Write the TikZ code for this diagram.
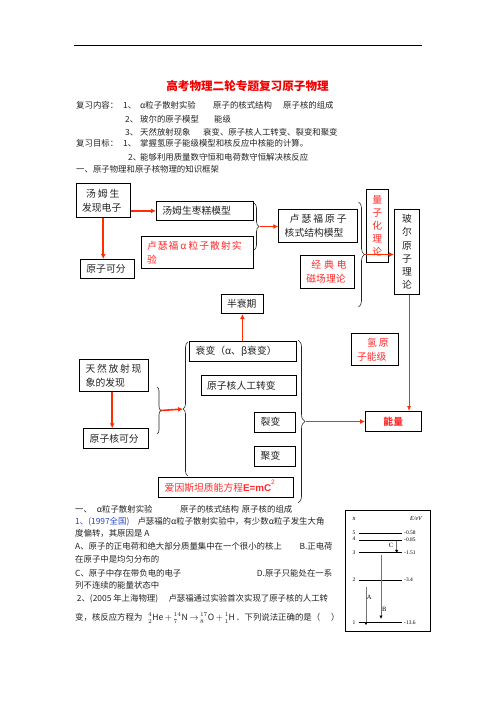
\documentclass[tikz,border=0pt]{standalone}
\usepackage{fontspec}
\setmainfont{Noto Sans CJK SC}
\newfontfamily\latin{Liberation Serif}
\newfontfamily\arial{Liberation Sans}
\usepackage{xcolor}
\usepackage{amsmath}
\usepackage{tikz}
\usetikzlibrary{arrows.meta,positioning,calc,decorations.pathreplacing}
\definecolor{titlered}{RGB}{240,0,0}
\definecolor{boxred}{RGB}{255,40,40}
\definecolor{arrowred}{RGB}{255,45,0}
\definecolor{qblue}{RGB}{40,70,200}
\definecolor{ink}{RGB}{35,35,35}

\begin{document}
\begin{tikzpicture}[x=1pt,y=-1pt,
    box/.style={draw,line width=.8pt,anchor=north west,inner xsep=6pt,inner ysep=0pt,align=left,font=\fontsize{9.8}{14}\selectfont,text=ink},
    vbox/.style={draw,line width=.8pt,anchor=north west,inner sep=0pt,align=center,font=\fontsize{9.8}{13}\selectfont,text=ink},
    arrow/.style={-{Latex[length=5pt,width=5pt]},line width=1.6pt,draw=arrowred},
    thinarrow/.style={-{Latex[length=5pt,width=4pt]},line width=.8pt,draw=arrowred},
    brace/.style={decorate,decoration={brace,amplitude=#1},line width=.6pt,draw=ink},
    txt/.style={anchor=base west,inner sep=0pt,font=\fontsize{8.4}{10}\selectfont,text=ink},
    small/.style={inner sep=0pt,font=\latin\fontsize{5.5}{6}\selectfont},
    earrow/.style={-{Latex[length=3.5pt,width=3.5pt,color=black]},line width=.7pt,draw=black!55}
    ]
    \useasboundingbox (0,0) rectangle (496,702);

    % page head
    \draw[line width=.8pt] (74,45) -- (422,45);
    \node[inner sep=0pt,font=\fontsize{11.6}{14}\selectfont\bfseries,text=titlered] (title) at (247.5,86) {高考物理二轮专题复习原子物理};

    \node[txt] (rev) at (76,108.5) {复习内容：};
    \node[txt] (rev1n) at (123,108.5) {1、};
    \node[txt] (rev1a) at (140,108.5) {α粒子散射实验};
    \node[txt] (rev1b) at (213,108.5) {原子的核式结构};
    \node[txt] (rev1c) at (283,108.5) {原子核的组成};
    \node[txt] (rev2n) at (125,122.5) {2、};
    \node[txt] (rev2a) at (140,122.5) {玻尔的原子模型};
    \node[txt] (rev2b) at (214,122.5) {能级};
    \node[txt] (rev3n) at (125,135.5) {3、};
    \node[txt] (rev3a) at (140,135.5) {天然放射现象};
    \node[txt] (rev3b) at (203,135.5) {衰变、原子核人工转变、裂变和聚变};
    \node[txt] (aim) at (76,146.5) {复习目标：};
    \node[txt] (aim1n) at (123,146.5) {1、};
    \node[txt] (aim1a) at (140,146.5) {掌握氢原子能级模型和核反应中核能的计算。};
    \node[txt] (aim2n) at (128,160) {2、};
    \node[txt] (aim2a) at (140,160) {能够利用质量数守恒和电荷数守恒解决核反应};
    \node[txt] (frame) at (76,172.5) {一、原子物理和原子核物理的知识框架};

    % knowledge frame
    \node[box,text width=42.3pt,minimum height=33.4pt] (thomson) at (75.7,183.3) {\hspace*{4pt}汤\hspace{2pt}姆\hspace{2pt}生\\发现电子};
    \node[box,text width=84.7pt,minimum height=19pt] (plum) at (156,201) {汤姆生枣糕模型};
    \node[box,text=boxred,text width=100.6pt,minimum height=32.6pt] (scatter) at (140.7,235.7) {卢\hspace{1pt}瑟\hspace{1pt}福\hspace{2pt}α\hspace{2pt}粒\hspace{1pt}子\hspace{1pt}散\hspace{1pt}射\hspace{1pt}实\\验};
    \node[box,text width=42pt,minimum height=19.3pt] (divisible) at (80,259) {原子可分};
    \node[box,text width=66.4pt,minimum height=32.7pt] (nuclear) at (278.3,209) {\hspace*{5pt}卢\hspace{2pt}瑟\hspace{2pt}福\hspace{2pt}原\hspace{2pt}子\\核式结构模型};
    \node[box,text=boxred,text width=42.3pt,minimum height=32.7pt] (classic) at (300,255) {\hspace*{5pt}经\hspace{3pt}典\hspace{3pt}电\\磁场理论};
    \node[vbox,text=boxred,minimum width=21.5pt,minimum height=73pt] (quantum) at (366,189) {量\\子\\化\\理\\论};
    \node[vbox,font=\fontsize{9.8}{13.3}\selectfont,minimum width=25.3pt,minimum height=85pt] (bohr) at (394,209) {玻\\尔\\原\\子\\理\\论};
    \node[box,text=boxred,text width=35.6pt,minimum height=32pt] (hlevel) at (350.7,333) {\hspace*{10pt}氢\hspace{2pt}原\\子能级};
    \node[box,text width=30.6pt,minimum height=19.3pt] (halflife) at (220.7,294) {半衰期};
    \node[box,text width=94.4pt,minimum height=20pt] (decay) at (189.3,341) {衰变（α、β衰变）};
    \node[box,text width=83pt,minimum height=20pt] (artificial) at (200.7,375.3) {原子核人工转变};
    \node[box,text width=29pt,minimum height=20pt] (fission) at (254.3,411.7) {裂变};
    \node[box,text width=29pt,minimum height=20pt] (fusion) at (254.3,445.7) {聚变};
    \node[box,text=boxred,text width=122.4pt,minimum height=20pt] (einstein) at (158.3,477.3) {爱因斯坦质能方程{\arial\bfseries E=mC}\smash{\raisebox{7pt}{\arial\fontsize{6.5}{7}\selectfont 2}}};
    \node[box,align=center,font=\fontsize{9.8}{14}\selectfont\bfseries,text=boxred,text width=43.7pt,minimum height=19.7pt] (energy) at (365,411) {能量};
    \node[box,text width=57pt,minimum height=31.7pt] (radio) at (79.3,359.3) {天\hspace{1.7pt}然\hspace{1.7pt}放\hspace{1.7pt}射\hspace{1.7pt}现\\象的发现};
    \node[box,text width=53pt,minimum height=20pt] (nucdiv) at (83.3,428.3) {原子核可分};

    % braces
    \draw[brace=5pt] (254,203) -- (254,250);
    \draw[brace=6pt] (358.5,202) -- (358.5,307);
    \draw[brace=4pt] (157,387) -- (157,434);
    \draw[brace=5pt] (188,476) -- (188,342);
    \draw[brace=7pt] (298,340) -- (298,503);
    \coordinate (tip1) at (259.5,226.5);
    \coordinate (tip2) at (364.5,254.5);
    \coordinate (tip3) at (161,410.5);
    \coordinate (tip4) at (183,409);
    \coordinate (tip5) at (305.5,421.5);

    % arrows
    \draw[arrow] (thomson.east |- plum.west) -- (plum.west);
    \draw[arrow] (thomson.south) -- (thomson.south |- divisible.north);
    \draw[arrow] (tip1) -- (tip1 -| nuclear.west);
    \draw[arrow] (tip2) -- (tip2 -| bohr.west);
    \draw[thinarrow] ([xshift=2pt]bohr.south) -- ([xshift=2pt]bohr.south |- energy.north);
    \draw[arrow] (halflife.south |- decay.north) -- (halflife.south);
    \draw[arrow] ([xshift=-2pt]radio.south) -- ([xshift=-2pt]radio.south |- nucdiv.north);
    \draw[arrow] (tip3) -- (tip4);
    \draw[arrow] (tip5) -- (tip5 -| energy.west);

    % exercises
    \node[txt] (q0a) at (75,512) {一、};
    \node[txt] (q0b) at (96.7,512) {α粒子散射实验};
    \node[txt] (q0c) at (180,512) {原子的核式结构};
    \node[txt] (q0d) at (241.7,512) {原子核的组成};
    \node[txt,text=qblue] (q1n) at (75,524) {1、(1997全国)};
    \node[txt] (q1a) at (137.3,524) {卢瑟福的α粒子散射实验中，有少数α粒子发生大角};
    \node[txt] (q1b) at (75,536.5) {度偏转，其原因是 A};
    \node[txt] (q1c) at (75,549.5) {A、原子的正电荷和绝大部分质量集中在一个很小的核上};
    \node[txt] (q1d) at (299.3,549.5) {B.正电荷};
    \node[txt] (q1e) at (75,562.5) {在原子中是均匀分布的};
    \node[txt] (q1f) at (75,576) {C、原子中存在带负电的电子};
    \node[txt] (q1g) at (256.7,576) {D.原子只能处在一系};
    \node[txt] (q1h) at (75,588.5) {列不连续的能量状态中};
    \node[txt] (q2n) at (76.7,601) {2、(2005 年上海物理)};
    \node[txt] (q2a) at (168.3,601) {卢瑟福通过实验首次实现了原子核的人工转};
    \node[txt] (q2b) at (75,620.5) {变，核反应方程为};
    \node[txt,font=\fontsize{8.6}{10}\selectfont] (q2eq) at (148,620.5) {${\mathstrut}^{4}_{2}\mathrm{He}\,{+}\,{\mathstrut}^{14}_{7}\mathrm{N}\,{\rightarrow}\,{\mathstrut}^{17}_{8}\mathrm{O}\,{+}\,{\mathstrut}^{1}_{1}\mathrm{H}$};
    \node[txt] (q2c) at (236,620.5) {．下列说法正确的是（};
    \node[txt] (q2d) at (331,620.5) {）};

    % energy levels
    \draw[line width=.8pt] (345,510) rectangle (430.7,631.7);
    \node[small,font=\latin\itshape\fontsize{6}{6}\selectfont] (nlab) at (354,519) {n};
    \node[small,font=\latin\itshape\fontsize{6}{6}\selectfont] (elab) at (416,519) {E/eV};
    \draw[line width=.7pt] (359,533.3) -- (401.7,533.3);
    \draw[line width=.7pt] (359,540) -- (401.7,540);
    \draw[line width=.7pt] (359,552.3) -- (401.7,552.3);
    \draw[line width=.7pt] (359,580) -- (401.7,580);
    \draw[line width=.7pt] (359,622.7) -- (401.7,622.7);
    \node[small] (n5) at (354,532.5) {5};
    \node[small] (n4) at (354,539) {4};
    \node[small] (n3) at (354,552.3) {3};
    \node[small] (n2) at (354,580) {2};
    \node[small] (n1) at (354,622.7) {1};
    \node[small,anchor=west] (e5) at (404,532.5) {-0.58};
    \node[small,anchor=west] (e4) at (404,539.5) {-0.85};
    \node[small,anchor=west] (e3) at (404,552.3) {-1.51};
    \node[small,anchor=west] (e2) at (404,580) {-3.4};
    \node[small,anchor=west] (e1) at (404,622.7) {-13.6};
    \coordinate (ctop) at (396.7,541);
    \coordinate (cbot) at (396.7,553.3);
    \coordinate (btop) at (381,555);
    \coordinate (bbot) at (381,619);
    \coordinate (atop) at (366,587);
    \coordinate (abot) at (366,625.5);
    \draw[earrow] (ctop) -- (cbot);
    \draw[earrow] (btop) -- (bbot);
    \draw[earrow] (atop) -- (abot);
    \node[small,font=\latin\fontsize{6.5}{7}\selectfont] (clab) at (391,545.7) {C};
    \node[small,font=\latin\fontsize{6.5}{7}\selectfont] (blab) at (384.3,609.3) {B};
    \node[small,font=\latin\fontsize{6.5}{7}\selectfont] (alab) at (369.3,597.7) {A};

  \end{tikzpicture}
\end{document}
